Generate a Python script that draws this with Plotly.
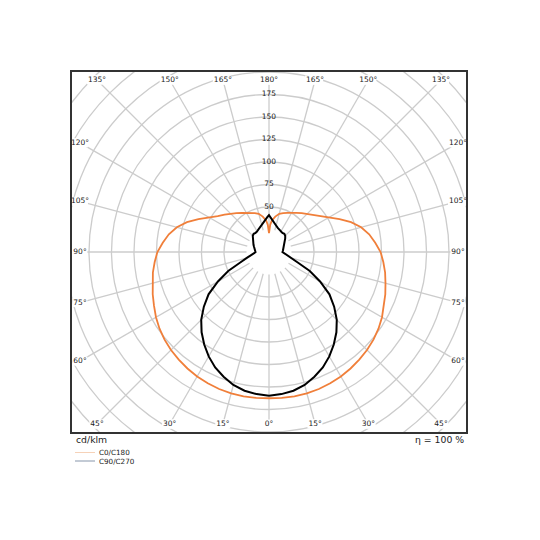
import numpy as np
import plotly.graph_objects as go

# ---------------- data (cd/klm) ----------------
gamma_deg = [0, 5, 10, 15, 20, 25, 30, 35, 40, 45, 50, 55, 60, 65, 70, 75, 80, 85, 90,
             95, 100, 105, 110, 115, 120, 125, 130, 135, 140, 145, 150, 155, 160, 165,
             170, 175, 177.5, 180]
c0_c180 = [162.5, 162.7, 162.8, 162.5, 162, 161, 159.7, 158, 156, 154, 151.5, 148.5, 145,
           141, 137.5, 134, 131, 127.5, 124, 118.5, 113, 106, 97, 86.5, 77, 69.5, 64.5,
           60.5, 56.5, 53, 50.5, 48, 46, 44, 40, 35, 30, 21]
c90_c270 = [159.6, 158.5, 156.5, 153, 147.5, 141.5, 134, 125.5, 116.5, 106.5, 94.5, 82,
            65.5, 50, 34, 25.5, 21, 17, 15, 15.5, 16, 16.8, 17.8, 19, 20.5, 22, 23.5, 25.5,
            26.5, 26, 26.5, 27.5, 28.5, 30.5, 33, 37, 39, 41]
series_names = ["C0/C180", "C90/C270"]
ring_values = [50, 75, 100, 125, 150, 175, 200, 225, 250, 275, 300]
ring_label_values = [50, 75, 100, 125, 150, 175]
angle_ticks = [0, 15, 30, 45, 60, 75, 90, 105, 120, 135, 150, 165, 180]
unit_label = "cd/klm"
efficiency_label = "η = 100 %"

# ---------------- geometry / styles ----------------
OFF = 8                      # page body margin
W = H = 540 - OFF
L, T = 72 - OFF, 72 - OFF
PW, PH = 394, 360
R, B = W - L - PW, H - T - PH
PX = 0.9                     # px per cd/klm
XH, YH = PW / 2 / PX, PH / 2 / PX
INSET = 8 / PX
SPOKE_START = 25
GRID = "#cccccc"
ORANGE = "#f07f3a"
FONT = "DejaVu Sans"

fig = go.Figure()


def full_curve(g, v):
    g = np.radians(np.asarray(g, float))
    v = np.asarray(v, float)
    xr = v * np.sin(g)
    y = -v * np.cos(g)
    return np.concatenate([xr, -xr[::-1]]), np.concatenate([y, y[::-1]])


shapes = []
for r in ring_values:
    shapes.append(dict(type="circle", xref="x", yref="y", x0=-r, x1=r, y0=-r, y1=r,
                       line=dict(color=GRID, width=1.3), layer="below"))

lab_x, lab_y, lab_t = [], [], []
bg_x, bg_y = [], []
ax, ay = XH - INSET, YH - INSET
for t in angle_ticks:
    sides = [1] if t in (0, 180) else [1, -1]
    for s in sides:
        dx = s * np.sin(np.radians(t))
        dy = -np.cos(np.radians(t))
        ks = []
        if abs(dx) > 1e-9:
            ks.append(ax / abs(dx))
        if abs(dy) > 1e-9:
            ks.append(ay / abs(dy))
        k = min(ks)
        ex, ey = k * dx, k * dy
        shapes.append(dict(type="line", xref="x", yref="y",
                           x0=SPOKE_START * dx, y0=SPOKE_START * dy, x1=ex, y1=ey,
                           line=dict(color=GRID, width=1.3), layer="below"))
        txt = f"{t}°"
        lab_x.append(ex); lab_y.append(ey); lab_t.append(txt)
        wpx = 7.5 * (0.636 * len(str(t)) + 0.5) + 2
        off = np.arange(-(wpx / 2 - 4.5), (wpx / 2 - 4.5) + 0.01, 3.0)
        for o in off:
            bg_x.append(ex + o / PX); bg_y.append(ey)

# curves
xo, yo = full_curve(gamma_deg, c0_c180)
fig.add_trace(go.Scatter(x=xo, y=yo, mode="lines", line=dict(color=ORANGE, width=1.8),
                         name=series_names[0], showlegend=False, hoverinfo="skip"))
xb, yb = full_curve(gamma_deg, c90_c270)
fig.add_trace(go.Scatter(x=xb, y=yb, mode="lines", line=dict(color="#000000", width=2),
                         name=series_names[1], showlegend=False, hoverinfo="skip"))

# label backgrounds and labels
fig.add_trace(go.Scatter(x=bg_x, y=bg_y, mode="markers", cliponaxis=True,
                         marker=dict(symbol="square", size=9, color="white", line=dict(width=0)),
                         showlegend=False, hoverinfo="skip"))
fig.add_trace(go.Scatter(x=lab_x, y=lab_y, text=lab_t, mode="text", cliponaxis=True,
                         textposition="middle center",
                         textfont=dict(family=FONT, size=7.5, color="#222222"),
                         showlegend=False, hoverinfo="skip"))
fig.add_trace(go.Scatter(x=[0] * len(ring_label_values), y=ring_label_values,
                         text=[str(v) for v in ring_label_values], mode="text", cliponaxis=True,
                         textposition="middle center",
                         textfont=dict(family=FONT, size=7.5, color="#222222"),
                         showlegend=False, hoverinfo="skip"))


def px_x(p):
    # p: reference page pixel x
    return (p - OFF - L) / PW


def px_y(p):
    return (T + PH - (p - OFF)) / PH


annotations = [
    dict(text=unit_label, xref="paper", yref="paper", x=px_x(74), y=px_y(439.5),
         xanchor="left", yanchor="middle", showarrow=False,
         font=dict(family=FONT, size=9.3, color="#222222")),
    dict(text=efficiency_label, xref="paper", yref="paper", x=px_x(465.5), y=px_y(439.5),
         xanchor="right", yanchor="middle", showarrow=False,
         font=dict(family=FONT, size=9.3, color="#222222")),
]
legend_colors = ["#f6d2b8", "#8796ab"]
legend_ys = [452.5, 461]
for name, col, ly in zip(series_names, legend_colors, legend_ys):
    shapes.append(dict(type="line", xref="paper", yref="paper", x0=px_x(75), x1=px_x(95),
                       y0=px_y(ly), y1=px_y(ly), line=dict(color=col, width=1)))
    annotations.append(dict(text=name, xref="paper", yref="paper", x=px_x(98), y=px_y(ly),
                            xanchor="left", yanchor="middle", showarrow=False, borderpad=0,
                            font=dict(family=FONT, size=7.2, color="#222222")))

axis_common = dict(showgrid=False, zeroline=False, showticklabels=False, ticks="",
                   showline=True, mirror=True, linecolor="#333333", linewidth=1.5,
                   fixedrange=True)
fig.update_layout(
    width=W, height=H, margin=dict(l=L, r=R, t=T, b=B),
    paper_bgcolor="white", plot_bgcolor="white",
    xaxis=dict(range=[-XH, XH], **axis_common),
    yaxis=dict(range=[-YH, YH], **axis_common),
    shapes=shapes, annotations=annotations, showlegend=False,
)
fig.write_html("out.html")
